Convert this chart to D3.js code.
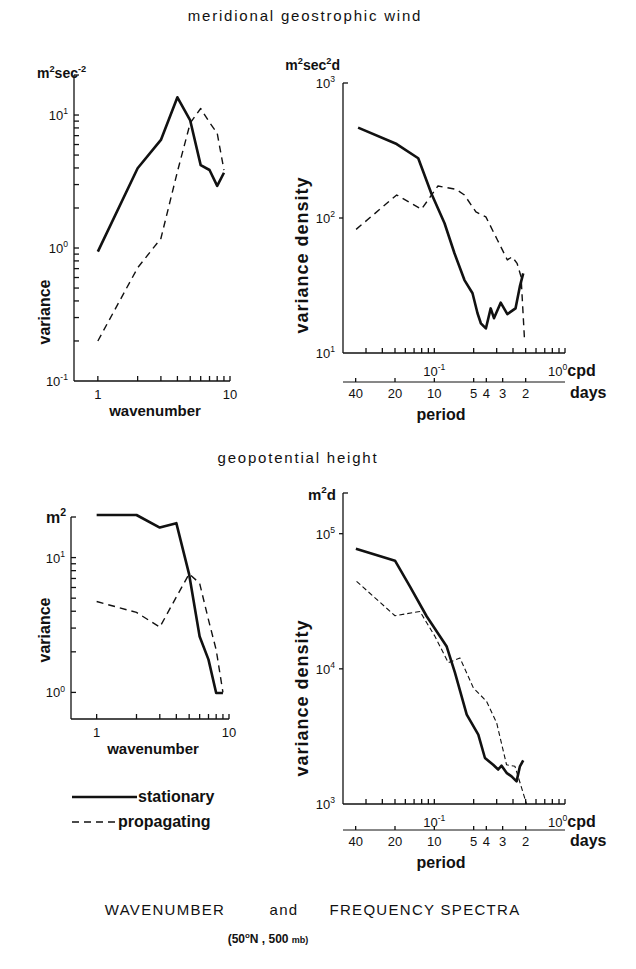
<!DOCTYPE html>
<html>
<head>
<meta charset="utf-8">
<script src="https://cdn.jsdelivr.net/npm/d3@7/dist/d3.min.js"></script>
<style>
body { margin: 0; background: #fff; }
text { font-family: "Liberation Sans", Arial, sans-serif; fill: #111; }
</style>
</head>
<body>
<div id="chart"></div>
<script>
// wavenumber spectra (variance per zonal wavenumber)
var waveNumbers = [1, 2, 3, 4, 5, 6, 7, 8, 9];
var windStationary = [0.94, 3.98, 6.5, 13.6, 9.1, 4.2, 3.86, 2.93, 3.68];
var windPropagating = [0.2, 0.71, 1.18, 3.75, 8.7, 11.2, 8.8, 7.3, 3.86];
var heightStationary = [20.7, 20.7, 16.7, 18, 7.5, 2.6, 1.75, 0.99, 0.99];
var heightPropagating = [4.72, 3.92, 3.05, 5.1, 7.57, 6.45, 3.45, 2.07, 1.0];

// frequency spectra (variance density), frequency in cpd
var windStatFreq = [0.0261, 0.0515, 0.0753, 0.0949, 0.1197, 0.1426, 0.170, 0.196, 0.214, 0.227, 0.248, 0.270, 0.286, 0.322, 0.362, 0.418, 0.451, 0.479];
var windStatDens = [467, 353, 277, 152, 91.4, 54.8, 34.7, 27.7, 19.7, 16.6, 15.2, 21.4, 18.1, 23.6, 19.4, 21.4, 31, 38.9];
var windPropFreq = [0.0252, 0.0515, 0.0797, 0.1066, 0.147, 0.170, 0.208, 0.248, 0.304, 0.362, 0.394, 0.430, 0.461, 0.489];
var windPropDens = [82.4, 148, 116, 172.7, 163, 148, 111, 102, 68.7, 48.9, 51.6, 46.1, 36.7, 13];
var heightStatFreq = [0.0251, 0.050, 0.065, 0.0873, 0.124, 0.144, 0.177, 0.217, 0.244, 0.282, 0.308, 0.327, 0.357, 0.390, 0.426, 0.452, 0.479];
var heightStatDens = [77400, 63100, 40800, 24500, 14700, 9330, 4580, 3260, 2190, 1950, 1800, 1920, 1700, 1600, 1470, 1900, 2100];
var heightPropFreq = [0.0254, 0.050, 0.0776, 0.101, 0.128, 0.157, 0.199, 0.251, 0.300, 0.357, 0.414, 0.508];
var heightPropDens = [44400, 24700, 26600, 17400, 11100, 12050, 7220, 5750, 3980, 1950, 1900, 1000];

// tick values
var waveTicks = [1, 2, 3, 4, 5, 6, 7, 8, 9, 10];
var freqTicks = [0.03, 0.04, 0.05, 0.06, 0.07, 0.08, 0.09, 0.1, 0.2, 0.3, 0.4, 0.5, 0.6, 0.7, 0.8, 0.9, 1];
var periodTicks = [40, 20, 10, 5, 4, 3, 2];

var svg = d3.select("#chart").append("svg")
  .attr("width", 636)
  .attr("height", 969);

// text with superscripts: parts are strings or [sup] arrays
function rich(x, y, parts, size, anchor, weight) {
  var t = svg.append("text")
    .attr("x", x).attr("y", y)
    .attr("text-anchor", anchor || "start")
    .style("font-size", size + "px")
    .style("font-weight", weight || "normal");
  var up = false;
  parts.forEach(function (p) {
    if (Array.isArray(p)) {
      t.append("tspan").attr("dy", -size * 0.45).style("font-size", (size * 0.66) + "px").text(p[0]);
      up = true;
    } else {
      t.append("tspan").attr("dy", up ? size * 0.45 : 0).text(p);
      up = false;
    }
  });
  return t;
}

function label(x, y, txt, size, anchor, weight, rotate) {
  var t = svg.append("text")
    .attr("x", x).attr("y", y)
    .attr("text-anchor", anchor || "middle")
    .style("font-size", size + "px")
    .style("font-weight", weight || "bold")
    .text(txt);
  if (rotate) t.attr("transform", "rotate(-90," + x + "," + y + ")");
  return t;
}

function drawSeries(g, x, y, xs, ys, dashed, thin) {
  var line = d3.line().x(d => x(d[0])).y(d => y(d[1]));
  g.append("path")
    .datum(d3.zip(xs, ys))
    .attr("d", line)
    .attr("fill", "none")
    .attr("stroke", "#111")
    .attr("stroke-linejoin", "round")
    .attr("stroke-width", dashed ? (thin ? 1.1 : 1.4) : 2.6)
    .attr("stroke-dasharray", dashed ? (thin ? "5,3" : "7,5") : null);
}

// ---------- wavenumber panels ----------
function wavePanel(xr, yr, yDom, minorY, majorY) {
  var x = d3.scaleLog().domain([xr[2], 10]).range([xr[0], xr[1]]);
  var y = d3.scaleLog().domain(yDom).range(yr);
  var g = svg.append("g").attr("stroke", "#111").attr("stroke-width", 1.3);
  // axes
  g.append("line").attr("x1", xr[0]).attr("x2", xr[0]).attr("y1", yr[0]).attr("y2", yr[1]);
  g.append("line").attr("x1", xr[0]).attr("x2", xr[1]).attr("y1", yr[0]).attr("y2", yr[0]);
  // top bracket
  g.append("line").attr("x1", xr[0]).attr("x2", xr[0] + 5).attr("y1", yr[1]).attr("y2", yr[1]);
  g.selectAll("line.ytick").data(minorY.concat(majorY)).enter().append("line")
    .attr("class", "ytick")
    .attr("x1", xr[0]).attr("x2", xr[0] + 5)
    .attr("y1", d => y(d)).attr("y2", d => y(d));
  g.selectAll("line.xtick").data(waveTicks).enter().append("line")
    .attr("class", "xtick")
    .attr("x1", d => x(d)).attr("x2", d => x(d))
    .attr("y1", yr[0]).attr("y2", yr[0] - 5);
  var sg = svg.append("g");
  label(x(1), yr[0] + 18, "1", 13, "middle", "normal");
  label(x(10), yr[0] + 18, "10", 13, "middle", "normal");
  label((xr[0] + xr[1]) / 2 + 3, yr[0] + 35, "wavenumber", 15, "middle", "bold");
  return { x: x, y: y, g: sg };
}

// top left: meridional wind, wavenumber
var p1 = wavePanel([74, 230, 0.66], [381, 75], [0.1, 20],
  [0.2, 0.3, 0.4, 0.5, 0.6, 0.7, 0.8, 0.9, 2, 3, 4, 5, 6, 7, 8, 9], [1, 10]);
drawSeries(p1.g, p1.x, p1.y, waveNumbers, windStationary, false);
drawSeries(p1.g, p1.x, p1.y, waveNumbers, windPropagating, true);
rich(68, p1.y(10) + 5, ["10", ["1"]], 13, "end");
rich(68, p1.y(1) + 5, ["10", ["0"]], 13, "end");
rich(68, p1.y(0.1) + 5, ["10", ["-1"]], 13, "end");
rich(37, 78, ["m", ["2"], "sec", ["-2"]], 14, "start", "bold");
label(50, 312, "variance", 16, "middle", "bold", true);

// bottom left: geopotential height, wavenumber
var p3 = wavePanel([71, 229, 0.64], [719, 517], [0.635, 20],
  [2, 3, 4, 5, 6, 7, 8, 9], [1, 10]);
drawSeries(p3.g, p3.x, p3.y, waveNumbers, heightStationary, false);
drawSeries(p3.g, p3.x, p3.y, waveNumbers, heightPropagating, true);
rich(65, p3.y(10) + 5, ["10", ["1"]], 13, "end");
rich(65, p3.y(1) + 5, ["10", ["0"]], 13, "end");
rich(66, 523, ["m", ["2"]], 16, "end", "bold");
label(50, 630, "variance", 16, "middle", "bold", true);

// ---------- frequency panels ----------
function freqPanel(yr, yDom, majorY, periodY) {
  var xr = [343, 565];
  var x = d3.scaleLog().domain([0.02, 1]).range(xr);
  var y = d3.scaleLog().domain(yDom).range(yr);
  var g = svg.append("g").attr("stroke", "#111").attr("stroke-width", 1.3);
  g.append("line").attr("x1", xr[0]).attr("x2", xr[0]).attr("y1", yr[0]).attr("y2", yr[1]);
  g.append("line").attr("x1", xr[0]).attr("x2", xr[1]).attr("y1", yr[0]).attr("y2", yr[0]);
  g.append("line").attr("x1", xr[0]).attr("x2", xr[0] + 5).attr("y1", yr[1]).attr("y2", yr[1]);
  g.selectAll("line.ytick").data(majorY).enter().append("line")
    .attr("class", "ytick")
    .attr("x1", xr[0] - 4).attr("x2", xr[0])
    .attr("y1", d => y(d)).attr("y2", d => y(d));
  g.selectAll("line.xtick").data(freqTicks).enter().append("line")
    .attr("class", "xtick")
    .attr("x1", d => x(d)).attr("x2", d => x(d))
    .attr("y1", yr[0]).attr("y2", yr[0] - 5);
  // period axis
  g.append("line").attr("x1", xr[0]).attr("x2", xr[1]).attr("y1", periodY).attr("y2", periodY)
    .attr("stroke-width", 1);
  g.selectAll("line.ptick").data(periodTicks).enter().append("line")
    .attr("class", "ptick")
    .attr("x1", d => x(1 / d)).attr("x2", d => x(1 / d))
    .attr("y1", periodY).attr("y2", periodY - 4);
  periodTicks.forEach(function (p) {
    label(x(1 / p), periodY + 16, String(p), 13, "middle", "normal");
  });
  label(570, periodY + 16, "days", 16, "start", "bold");
  label(441, periodY + 38, "period", 16, "middle", "bold");
  rich(x(0.1), yr[0] + 23, ["10", ["-1"]], 13, "middle");
  rich(548, yr[0] + 23, ["10", ["0"]], 13, "start").append("tspan").attr("dy", 13 * 0.45)
    .style("font-size", "16px").style("font-weight", "bold").text("cpd");
  var sg = svg.append("g");
  return { x: x, y: y, g: sg };
}

// top right: meridional wind, frequency
var p2 = freqPanel([353, 83], [10, 1000], [100], 382);
drawSeries(p2.g, p2.x, p2.y, windStatFreq, windStatDens, false);
drawSeries(p2.g, p2.x, p2.y, windPropFreq, windPropDens, true);
rich(335, p2.y(1000) + 5, ["10", ["3"]], 13, "end");
rich(335, p2.y(100) + 5, ["10", ["2"]], 13, "end");
rich(335, p2.y(10) + 5, ["10", ["1"]], 13, "end");
rich(340, 70, ["m", ["2"], "sec", ["2"], "d"], 14, "end", "bold");
label(308, 255, "variance density", 18, "middle", "bold", true).style("letter-spacing", "1px");

// bottom right: geopotential height, frequency
var p4 = freqPanel([804, 493], [1000, 200000], [10000, 100000], 830);
drawSeries(p4.g, p4.x, p4.y, heightStatFreq, heightStatDens, false);
drawSeries(p4.g, p4.x, p4.y, heightPropFreq, heightPropDens, true, true);
rich(335, p4.y(100000) + 5, ["10", ["5"]], 13, "end");
rich(335, p4.y(10000) + 5, ["10", ["4"]], 13, "end");
rich(335, p4.y(1000) + 5, ["10", ["3"]], 13, "end");
rich(336, 500, ["m", ["2"], "d"], 15, "end", "bold");
label(308, 698, "variance density", 18, "middle", "bold", true).style("letter-spacing", "1px");

// legend
svg.append("line").attr("x1", 72).attr("x2", 137).attr("y1", 797).attr("y2", 797)
  .attr("stroke", "#111").attr("stroke-width", 2.6);
label(138, 802, "stationary", 16, "start", "bold");
svg.append("line").attr("x1", 72).attr("x2", 117).attr("y1", 822).attr("y2", 822)
  .attr("stroke", "#111").attr("stroke-width", 1.4).attr("stroke-dasharray", "7,5");
label(118, 827, "propagating", 16, "start", "bold");

// titles
label(305, 21, "meridional geostrophic wind", 15, "middle", "normal").style("letter-spacing", "1.8px");
label(298, 463, "geopotential height", 15, "middle", "normal").style("letter-spacing", "1.8px");
label(165, 915, "WAVENUMBER", 15, "middle", "normal").style("letter-spacing", "1.3px");
label(284, 915, "and", 15, "middle", "normal").style("letter-spacing", "1.3px");
label(425, 915, "FREQUENCY  SPECTRA", 15, "middle", "normal").style("letter-spacing", "1.3px");
var sub = rich(268, 943, ["(50", ["o"], "N , 500 "], 12, "middle", "bold");
sub.append("tspan").style("font-size", "9px").text("mb)");
</script>
</body>
</html>
